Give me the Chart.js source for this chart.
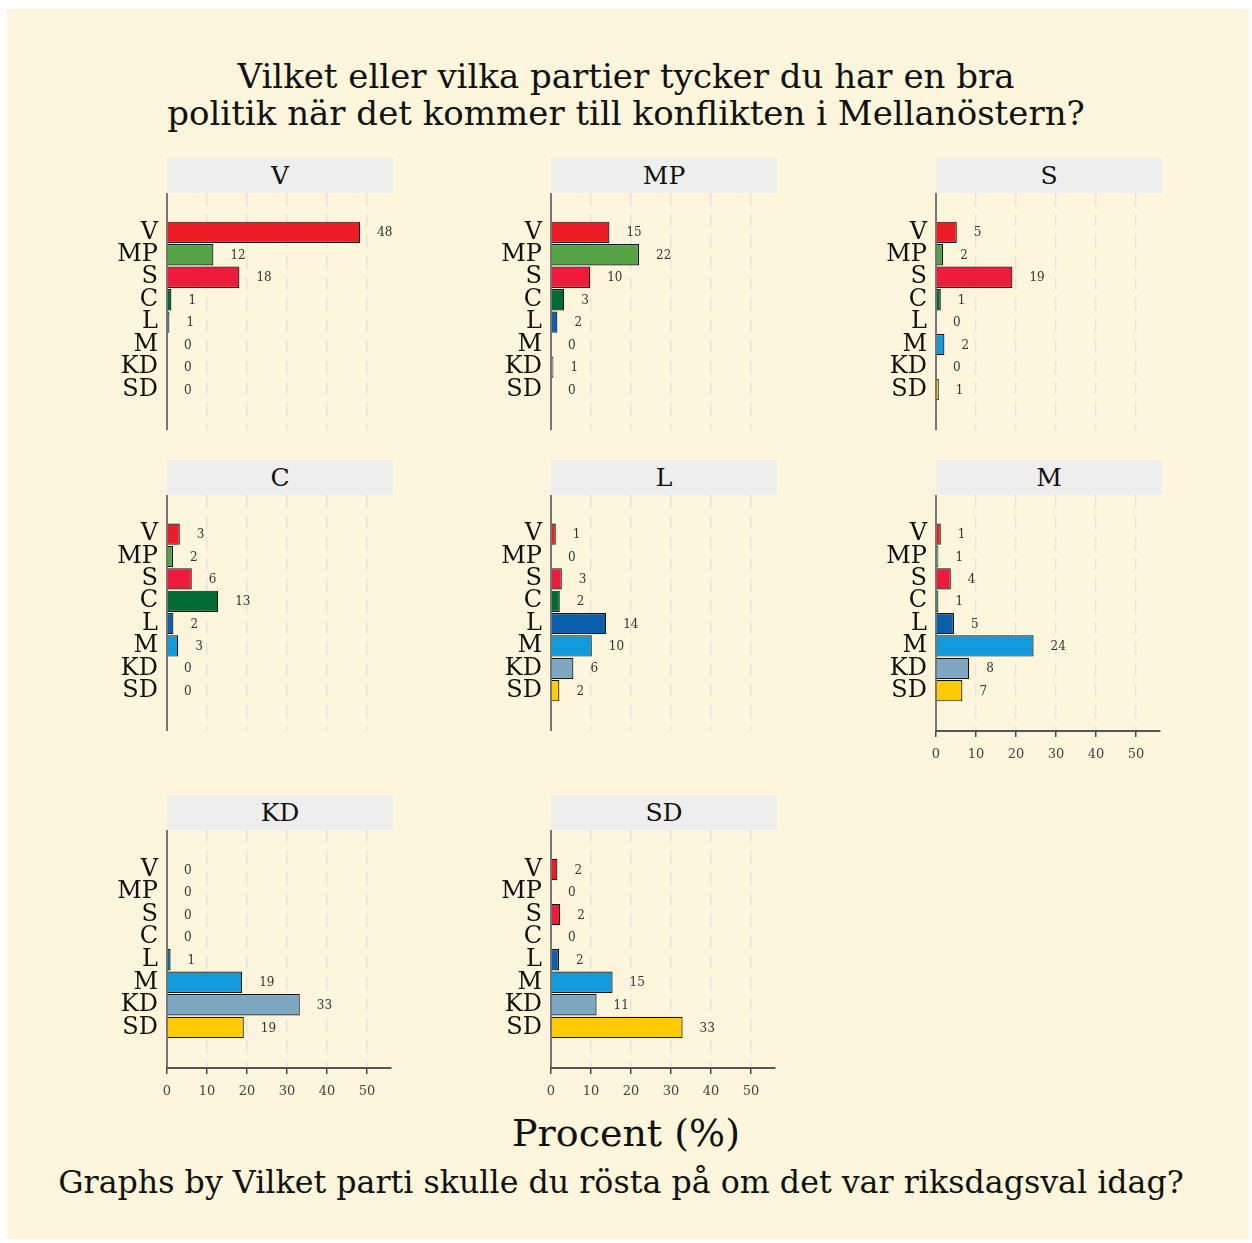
<!DOCTYPE html>
<html lang="sv">
<head>
<meta charset="UTF-8">
<title>Partier och konflikten i Mellanöstern</title>
<script src="https://cdn.jsdelivr.net/npm/chart.js"></script>
<style>
    body { margin: 0; background: #ffffff; }
    .page {
        position: absolute; left: 7px; top: 9px; width: 1242px; height: 1230px;
        background: #fef6dc;
    }
    .txt {
        position: absolute; left: 0; width: 1252px; text-align: center;
        font-family: "DejaVu Serif", serif; color: #111;
    }
    .strip {
        position: absolute; height: 35px; width: 226px; background: #eeeeee;
        font-family: "DejaVu Serif", serif; font-size: 25px; line-height: 35px;
        text-align: center; color: #111;
    }
    canvas { position: absolute; }
</style>
</head>
<body>
<div class="page"></div>
<div class="txt" style="top:58px; font-size:34px; line-height:37px;">Vilket eller vilka partier tycker du har en bra<br>politik när det kommer till konflikten i Mellanöstern?</div>
<div class="txt" style="top:1110px; font-size:38px; line-height:46px;">Procent (%)</div>
<div class="txt" style="top:1164px; font-size:31.7px; line-height:36px; left:-5px;">Graphs by Vilket parti skulle du rösta på om det var riksdagsval idag?</div>
<div id="wrap"></div>

<script>
    // party answered (bars) and the panel = party you would vote for
    const parties = ["V", "MP", "S", "C", "L", "M", "KD", "SD"];
    const partyColors = ["#ed1c24", "#55a247", "#ee1b3b", "#006b37", "#0b5fab", "#119bdc", "#7ea8c1", "#ffcb05"];
    const xTicks = [0, 10, 20, 30, 40, 50];

    const valuesV  = [48.3, 11.6, 18.1, 1.1, 0.6, 0, 0, 0];
    const valuesMP = [14.6, 22.0, 9.8, 3.3, 1.6, 0, 0.6, 0];
    const valuesS  = [5.2, 1.8, 19.1, 1.2, 0, 2.1, 0, 0.7];
    const valuesC  = [3.2, 1.5, 6.2, 12.8, 1.6, 2.8, 0, 0];
    const valuesL  = [1.2, 0, 2.7, 2.2, 13.8, 10.2, 5.6, 2.1];
    const valuesM  = [1.2, 0.6, 3.7, 0.6, 4.5, 24.4, 8.3, 6.6];
    const valuesKD = [0, 0, 0, 0, 0.9, 18.8, 33.2, 19.2];
    const valuesSD = [1.6, 0, 2.3, 0, 2.0, 15.4, 11.4, 32.9];

    const panelValues = [valuesV, valuesMP, valuesS, valuesC, valuesL, valuesM, valuesKD, valuesSD];

    // layout of the 3x3 grid
    const colX = [167, 551, 936];
    const rowTop = [193, 495, 830];
    const rowH = [237, 236, 238];
    const withAxis = ["M", "KD", "SD"];

    const valueLabels = {
        id: "valueLabels",
        afterDatasetsDraw(chart) {
            const ctx = chart.ctx;
            const meta = chart.getDatasetMeta(0);
            ctx.save();
            ctx.font = "12px 'DejaVu Serif'";
            ctx.fillStyle = "#333";
            ctx.textAlign = "left";
            ctx.textBaseline = "middle";
            meta.data.forEach((bar, i) => {
                const v = chart.data.datasets[0].data[i].x;
                ctx.fillText(Math.round(v), bar.x + 17, bar.y + 1);
            });
            ctx.restore();
        }
    };

    const wrap = document.getElementById("wrap");

    parties.forEach((panel, p) => {
        const col = p % 3, row = Math.floor(p / 3);
        const axisX = colX[col];
        const top = rowTop[row];
        const showAxis = withAxis.includes(panel);
        const axisH = showAxis ? 36 : 0;

        const strip = document.createElement("div");
        strip.className = "strip";
        strip.style.left = axisX + "px";
        strip.style.top = (top - 35) + "px";
        strip.textContent = panel;
        wrap.appendChild(strip);

        const canvas = document.createElement("canvas");
        canvas.width = 310;
        canvas.height = rowH[row] + axisH;
        canvas.style.left = (axisX - 80) + "px";
        canvas.style.top = top + "px";
        wrap.appendChild(canvas);

        new Chart(canvas.getContext("2d"), {
            type: "bar",
            data: {
                datasets: [{
                    data: panelValues[p].map((v, i) => ({ x: v, y: i })),
                    backgroundColor: partyColors,
                    borderColor: "#141414",
                    borderWidth: 1.2,
                    categoryPercentage: 1,
                    barPercentage: 0.95
                }]
            },
            options: {
                indexAxis: "y",
                responsive: false,
                animation: false,
                layout: { padding: { top: 0, right: 6, bottom: 0, left: 0 } },
                plugins: { legend: { display: false }, tooltip: { enabled: false } },
                scales: {
                    y: {
                        type: "linear",
                        reverse: true,
                        offset: false,
                        min: -1.75,
                        max: 8.8,
                        afterBuildTicks: s => { s.ticks = parties.map((_, i) => ({ value: i })); },
                        afterFit: s => { s.width = 80; s.paddingTop = 0; s.paddingBottom = 0; },
                        grid: { display: false, drawTicks: false },
                        border: { display: true, color: "#777", width: 2 },
                        ticks: {
                            autoSkip: false,
                            padding: 9,
                            color: "#111",
                            font: { family: "DejaVu Serif", size: 24 },
                            callback: v => parties[v]
                        }
                    },
                    x: {
                        type: "linear",
                        min: 0,
                        max: 56,
                        afterBuildTicks: s => { s.ticks = xTicks.map(v => ({ value: v })); },
                        afterFit: s => { s.height = axisH; s.paddingLeft = 0; s.paddingRight = 0; },
                        grid: {
                            color: "#e3e3e3",
                            lineWidth: 1.5,
                            drawTicks: showAxis,
                            tickLength: 6,
                            tickColor: "#444"
                        },
                        border: { display: showAxis, color: "#555", width: 2, dash: [13, 8] },
                        ticks: {
                            display: showAxis,
                            autoSkip: false,
                            padding: 10,
                            color: "#444",
                            font: { family: "DejaVu Serif", size: 13 }
                        }
                    }
                }
            },
            plugins: [valueLabels]
        });
    });
</script>
</body>
</html>
